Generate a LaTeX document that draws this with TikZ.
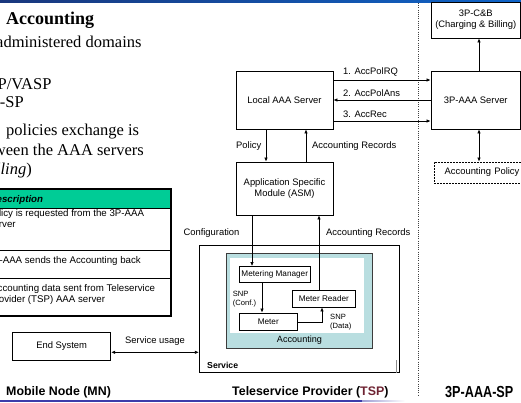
\documentclass[tikz,border=0pt]{standalone}
\usepackage{fontspec}
\setmainfont{Liberation Serif}
\setsansfont{Liberation Sans}
\usetikzlibrary{arrows.meta,calc}
\definecolor{barL}{RGB}{25,55,125}
\definecolor{barR}{RGB}{15,100,200}
\definecolor{hdrgreen}{RGB}{0,204,150}
\definecolor{tealfill}{RGB}{185,222,224}
\definecolor{tealedge}{RGB}{60,60,60}
\definecolor{lineblue}{RGB}{60,60,170}
\definecolor{tspred}{RGB}{110,35,50}
\begin{document}
\begin{tikzpicture}[x=1pt,y=-1pt,
  box/.style={draw=black,line width=0.8pt,fill=white,inner sep=0pt,align=center,font=\sffamily\fontsize{9.4}{11}\selectfont},
  sbox/.style={draw=black,line width=0.8pt,fill=white,inner sep=0pt,font=\sffamily\fontsize{8.2}{10}\selectfont},
  lbl/.style={font=\sffamily\fontsize{9.4}{11}\selectfont,inner sep=0pt},
  slbl/.style={font=\sffamily\fontsize{7.6}{9.5}\selectfont,inner sep=0pt},
  arr/.style={line width=0.7pt,-{Latex[length=4pt,width=3.4pt]}},
  darr/.style={line width=0.7pt,{Latex[length=4pt,width=3.4pt]}-{Latex[length=4pt,width=3.4pt]}},
  slide/.style={font=\fontsize{16.5}{19}\selectfont,inner sep=0pt},
  tbl/.style={font=\sffamily\fontsize{9.7}{11.2}\selectfont,inner sep=0pt,anchor=base west},
  region/.style={font=\sffamily\bfseries\fontsize{12.4}{14}\selectfont,inner sep=0pt,anchor=base west}
]
\useasboundingbox (0,0) rectangle (521,402);
\clip (0,0) rectangle (521,402);

% top bar
\shade[left color=barL,right color=barR] (0,0) rectangle (521,2.8);

% dotted domain separator
\draw[dash pattern=on 1pt off 1.2pt,line width=0.8pt,black!75] (418,3) -- (418,396);

% slide text
\node[anchor=base west,inner sep=0pt,font=\bfseries\fontsize{18}{20}\selectfont] (title) at (6,24) {Accounting};
\node[slide,anchor=base east] (l1) at (141.7,47.5) {administered domains};
\node[slide,anchor=base east] (l2) at (51.7,89.5) {SP/VASP};
\node[slide,anchor=base east] (l3) at (24,107.5) {AA-SP};
\node[slide,anchor=base west] (l4) at (6,135.5) {policies exchange is};
\node[slide,anchor=base east] (l5) at (144,155.5) {between the AAA servers};
\node[slide,anchor=base east] (l6) at (32,174.5) {\textit{lling})};

% table
\fill[hdrgreen] (-20,189.3) rectangle (170.7,208.3);
\draw[line width=0.8pt] (-20,208.3) -- (170.7,208.3);
\draw[line width=0.8pt] (-20,250) -- (170.7,250);
\draw[line width=0.8pt] (-20,278.3) -- (170.7,278.3);
\draw[line width=1.8pt] (-20,189.3) rectangle (170.7,316);
\node[tbl,font=\sffamily\bfseries\itshape\fontsize{9.7}{11}\selectfont] (th) at (-10.5,202.5) {Description};
\node[tbl] (r1a) at (-13,216.5) {Policy is requested from the 3P-AAA};
\node[tbl] (r1b) at (-11.5,227.8) {server};
\node[tbl] (r2) at (-12.5,263.5) {3P-AAA sends the Accounting back};
\node[tbl] (r3a) at (-9,291) {Accounting data sent from Teleservice};
\node[tbl] (r3b) at (-11,302.5) {Provider (TSP) AAA server};

% TSP boxes
\node[box,minimum width=97pt,minimum height=58pt] (laaa) at (284.5,100) {Local AAA Server};
\node[box,minimum width=97pt,minimum height=53pt] (asm) at (284.5,188.5) {Application Specific\\Module (ASM)};

% 3P boxes
\node[box,minimum width=89.5pt,minimum height=58pt] (paaa) at (475.75,100) {3P-AAA Server};
\node[box,minimum width=89.5pt,minimum height=36pt] (cb) at (475.75,20) {3P-C\&B\\(Charging \& Billing)};
\node[box,dash pattern=on 2pt off 1pt,minimum width=96pt,minimum height=21pt,text width=96pt] (pol) at (482,172.5) {Accounting Policy};

% service
\node[draw=black,line width=0.8pt,minimum width=200pt,minimum height=127.7pt,inner sep=0pt] (svc) at (299.3,308.85) {};
\draw[black!45,line width=0.6pt] (396,360) -- (396,372.7);
\node[draw=tealedge,fill=tealfill,line width=0.9pt,minimum width=146.7pt,minimum height=94.7pt,inner sep=0pt] (acc) at (299.35,300.65) {};
\fill[white] (230,258) rectangle (364,332.7);
\node[lbl,font=\sffamily\fontsize{9.1}{11}\selectfont] (acclbl) at (299.5,340.5) {Accounting};
\node[anchor=west,inner sep=0pt,font=\sffamily\bfseries\fontsize{8.7}{10}\selectfont] (svclbl) at (207,365) {Service};

\node[sbox,minimum width=70.5pt,minimum height=15.5pt] (mm) at (274.75,274.25) {Metering Manager};
\node[sbox,minimum width=57.5pt,minimum height=17pt] (meter) at (268.25,321.5) {Meter};
\node[sbox,minimum width=62.3pt,minimum height=16.5pt] (mr) at (323.85,298.75) {Meter Reader};

% end system
\node[box,minimum width=98pt,minimum height=27.7pt] (es) at (61.7,346.15) {End System};

% connectors
\draw[arr] (laaa.east |- 0,80) -- (paaa.west |- 0,80);
\draw[arr] (paaa.west |- 0,100) -- (laaa.east |- 0,100);
\draw[arr] (laaa.east |- 0,121) -- (paaa.west |- 0,121);
\node[lbl,anchor=west] (m1) at (343,71.7) {1. AccPolRQ};
\node[lbl,anchor=west] (m2) at (343,93) {2. AccPolAns};
\node[lbl,anchor=west] (m3) at (343,114) {3. AccRec};

\draw[arr] (paaa.north -| 479,0) -- (cb.south -| 479,0);
\draw[darr] (paaa.south -| 479,0) -- (pol.north -| 479,0);

\draw[arr] (laaa.south -| 266,0) -- (asm.north -| 266,0);
\draw[arr] (asm.north -| 306,0) -- (laaa.south -| 306,0);
\node[lbl,anchor=west] (polbl) at (236,146) {Policy};
\node[lbl,anchor=west] (arlbl) at (312,146) {Accounting Records};

\draw[arr] (asm.south -| 252,0) -- (mm.north -| 252,0);
\draw[arr] (mr.north -| 319,0) -- (asm.south -| 319,0);
\node[lbl] (cfglbl) at (211.5,233) {Configuration};
\node[lbl,anchor=west] (ar2lbl) at (326,233) {Accounting Records};

\draw[arr] (mm.south -| 262,0) -- (meter.north -| 262,0);
\draw[arr] (meter.east |- 0,322) -| (mr.south -| 322,0);
\node[slbl,anchor=west] (snp1) at (232.7,294.3) {SNP};
\node[slbl,anchor=west] (snp1b) at (232.7,303.5) {(Conf.)};
\node[slbl,anchor=west] (snp2) at (330,317.3) {SNP};
\node[slbl,anchor=west] (snp2b) at (330,326.7) {(Data)};

\draw[darr] (es.east |- 0,352.3) -- (svc.west |- 0,352.3);
\node[lbl] (sulbl) at (155,341) {Service usage};

% region labels
\node[region] (mn) at (6,395) {Mobile Node (MN)};
\node[region] (tsp) at (232,395) {Teleservice Provider (\textcolor{tspred}{TSP})};
\node[anchor=base west,inner sep=0pt] (sp) at (445,397.5) {\scalebox{0.79}[1]{\sffamily\bfseries\fontsize{16}{18}\selectfont 3P-AAA-SP}};

% bottom line
\fill[lineblue] (0,400) rectangle (362,401.8);
\shade[left color=lineblue!50,right color=white] (362,400) rectangle (405,401.8);
\end{tikzpicture}
\end{document}
